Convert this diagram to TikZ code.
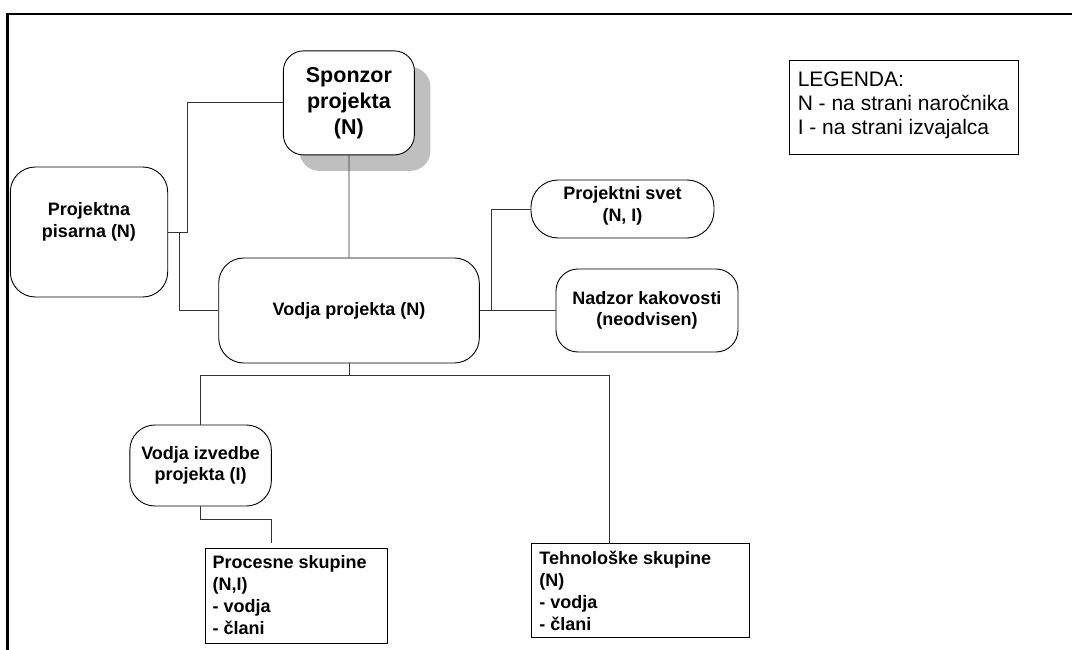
\documentclass[tikz,border=0pt]{standalone}
\usepackage{fontspec}
\setmainfont{Liberation Sans}
\usetikzlibrary{shadows,calc}

\newcommand{\lblfont}{\bfseries\fontsize{18}{21.5}\selectfont}
\newcommand{\boxfont}{\bfseries\fontsize{18}{22}\selectfont}
\newcommand{\bigfont}{\bfseries\fontsize{21.5}{26}\selectfont}
\newcommand{\legfont}{\fontsize{21}{24}\selectfont}

\tikzset{
  rbox/.style={draw, line width=0.9pt, fill=white, rounded corners=#1,
    align=center, inner sep=0pt, font=\lblfont},
  rbox/.default=22pt,
  sqbox/.style={draw, line width=0.9pt, fill=white, rectangle, inner sep=0pt},
  wire/.style={line width=0.8pt, black!80},
  frameline/.style={line width=2.6pt, line join=miter}
}

\begin{document}
\begin{tikzpicture}[x=1pt, y=-1pt]
\useasboundingbox (0,0) rectangle (1072,650);

% outer frame (top and left edges)
\draw[frameline] (1080,14) -- (7.3,14) -- (7.3,660);

% sponsor with its drop shadow
\node[rbox=20pt, font=\bigfont, minimum width=131pt, minimum height=104pt,
      drop shadow={shadow xshift=16pt, shadow yshift=-16pt, fill=black!25, opacity=1}]
  (spon) at (348.9,102.9) {Sponzor\\projekta\\(N)};

\node[rbox=25pt, minimum width=157.4pt, minimum height=130pt,
      label={[font=\lblfont, align=center, yshift=10pt]center:{Projektna\\pisarna (N)}}]
  (pis) at (89,232) {};

\node[rbox=25pt, minimum width=260.6pt, minimum height=105pt]
  (vod) at (349,310.5) {Vodja projekta (N)};

\node[rbox=27pt, minimum width=183pt, minimum height=58pt,
      label={[font=\lblfont, align=center, yshift=3pt]center:{Projektni svet\\(N, I)}}]
  (svet) at (622.5,209) {};

\node[rbox=22pt, minimum width=182pt, minimum height=83pt]
  (nad) at (647,310.5) {Nadzor kakovosti\\(neodvisen)};

\node[rbox=25pt, minimum width=141.5pt, minimum height=81pt]
  (izv) at (200.6,465.5) {Vodja izvedbe\\projekta (I)};

\node[sqbox, minimum width=182.1pt, minimum height=95pt,
      label={[anchor=north west, align=left, inner sep=0pt, font=\boxfont,
              xshift=7.2pt, yshift=-8pt]north west:{Procesne skupine\\(N,I)\\- vodja\\- člani}}]
  (proc) at (296.65,595.5) {};

\node[sqbox, minimum width=218.5pt, minimum height=94pt,
      label={[anchor=north west, align=left, inner sep=0pt, font=\boxfont,
              xshift=8.6pt, yshift=-8.5pt]north west:{Tehnološke skupine\\(N)\\- vodja\\- člani}}]
  (tech) at (640.25,590) {};

\node[sqbox, minimum width=229pt, minimum height=94pt,
      label={[anchor=north west, align=left, inner sep=0pt, font=\legfont,
              xshift=8.5pt, yshift=-12pt]north west:{LEGENDA:\\N - na strani naročnika\\I - na strani izvajalca}}]
  (leg) at (904,107) {};

% junction points of the connectors
\coordinate (j1) at (187.7,232);
\coordinate (j2) at (179.8,232);
\coordinate (j3) at (491.7,310.5);
\coordinate (busL) at (200.6,375);
\coordinate (busR) at (609.2,375);
\coordinate (j4) at (271.3,519);

% connectors
\draw[wire] (spon.west) -| (j1) -- (pis.east);
\draw[wire] (j2) |- (vod.west);
\draw[wire] (spon.south) -- (vod.north);
\draw[wire] (vod.east) -- (nad.west);
\draw[wire] (j3) |- (svet.west);
\draw[wire] (vod.south) -- (vod.south |- busL);
\draw[wire] (izv.north) |- (busR) -- (busR |- tech.north);
\draw[wire, shorten >=5pt] (izv.south) |- (j4) -- (j4 |- proc.north);
\end{tikzpicture}
\end{document}
